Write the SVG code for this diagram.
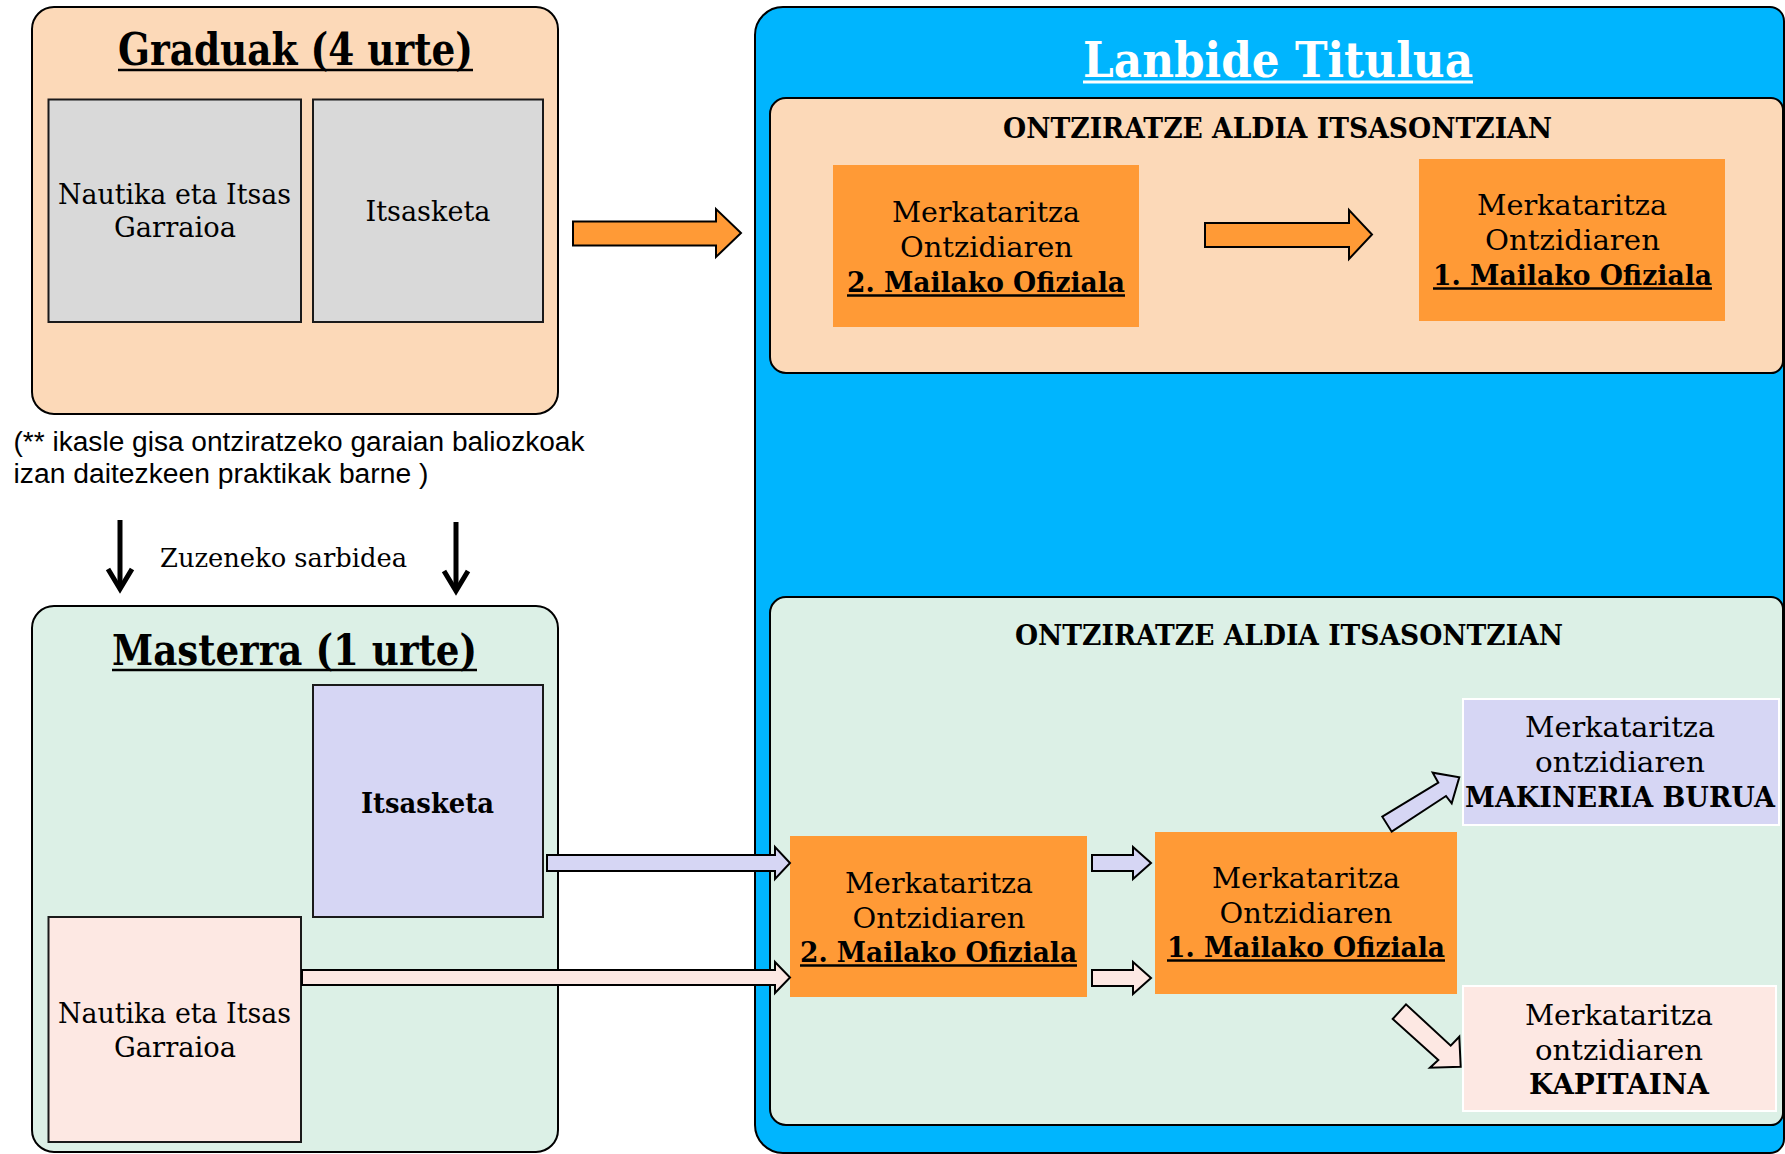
<svg xmlns="http://www.w3.org/2000/svg" width="1785" height="1154" viewBox="0 0 1785 1154">
<style>
.t{font-family:"DejaVu Serif","Liberation Serif",serif;font-size:27px;fill:#000;text-anchor:middle}
.b{font-weight:bold}
.h1{font-size:44px}
.h2{font-size:49px;fill:#fff}
.fn{font-family:"Liberation Sans Narrow","Liberation Sans",sans-serif;font-size:27px;fill:#000}
.ul{stroke:#000;stroke-width:2.5}
.box{stroke:#1a1a1a;stroke-width:2}
.blk{stroke:#000;stroke-width:2;stroke-linejoin:miter}
.org{fill:#FF9A36}
</style>
<rect width="1785" height="1154" fill="#fff"/>

<g id="graduak">
<rect x="32" y="7" width="526" height="407" rx="22" fill="#FCD9B8" stroke="#000" stroke-width="2"/>
<text class="t b h1" x="295.5" y="65" textLength="355" lengthAdjust="spacingAndGlyphs">Graduak (4 urte)</text>
<line class="ul" x1="118" y1="70" x2="473" y2="70" stroke-width="3"/>
</g>
<g id="grad-nautika">
<rect class="box" x="48.5" y="99.5" width="252.5" height="222.5" fill="#D9D9D9"/>
<text class="t" x="174.5" y="204" textLength="233" lengthAdjust="spacingAndGlyphs">Nautika eta Itsas</text>
<text class="t" x="175" y="237" textLength="122" lengthAdjust="spacingAndGlyphs">Garraioa</text>
</g>
<g id="grad-itsasketa">
<rect class="box" x="313" y="99.5" width="230" height="222.5" fill="#D9D9D9"/>
<text class="t" x="428" y="220.5" textLength="125" lengthAdjust="spacingAndGlyphs">Itsasketa</text>
</g>
<g id="oharra">
<text class="fn" x="13.5" y="451" textLength="571" lengthAdjust="spacingAndGlyphs">(** ikasle gisa ontziratzeko garaian baliozkoak</text>
<text class="fn" x="13.5" y="482.6" textLength="415" lengthAdjust="spacingAndGlyphs">izan daitezkeen praktikak barne )</text>
</g>

<g id="masterra">
<rect x="32" y="606" width="526" height="546" rx="22" fill="#DCF0E6" stroke="#000" stroke-width="2"/>
<text class="t b" x="294.5" y="665" style="font-size:43px" textLength="365" lengthAdjust="spacingAndGlyphs">Masterra (1 urte)</text>
<line class="ul" x1="112" y1="670" x2="477" y2="670" stroke-width="3"/>
</g>
<g id="master-itsasketa">
<rect class="box" x="313" y="685" width="230" height="232" fill="#D6D6F4"/>
<text class="t b" x="427.5" y="813" style="font-size:28px" textLength="133" lengthAdjust="spacingAndGlyphs">Itsasketa</text>
</g>
<g id="master-nautika">
<rect class="box" x="48.5" y="917" width="252.5" height="225" fill="#FDE8E3"/>
<text class="t" x="174.5" y="1023" textLength="233" lengthAdjust="spacingAndGlyphs">Nautika eta Itsas</text>
<text class="t" x="175" y="1057" textLength="122" lengthAdjust="spacingAndGlyphs">Garraioa</text>
</g>

<g id="lanbide-titulua">
<path d="M783 7H1770A14 14 0 0 1 1784 21V1139A14 14 0 0 1 1770 1153H783A28 28 0 0 1 755 1125V35A28 28 0 0 1 783 7Z" fill="#00B5FE" stroke="#000" stroke-width="2"/>
<text class="t b h2" x="1278" y="77" textLength="390" lengthAdjust="spacingAndGlyphs">Lanbide Titulua</text>
<line x1="1083" y1="82" x2="1473" y2="82" stroke="#fff" stroke-width="3"/>
</g>

<g id="ontziratze-goia">
<path d="M786 98H1771A12 12 0 0 1 1783 110V361A12 12 0 0 1 1771 373H786A16 16 0 0 1 770 357V114A16 16 0 0 1 786 98Z" fill="#FCD9B8" stroke="#000" stroke-width="2"/>
<text class="t b" x="1277.5" y="138" textLength="549" lengthAdjust="spacingAndGlyphs">ONTZIRATZE ALDIA ITSASONTZIAN</text>
</g>
<g id="goia-ofiziala2">
<rect class="org" x="833" y="165" width="306" height="162"/>
<text class="t" x="986" y="222" textLength="188" lengthAdjust="spacingAndGlyphs">Merkataritza</text>
<text class="t" x="986.5" y="257" textLength="173" lengthAdjust="spacingAndGlyphs">Ontzidiaren</text>
<text class="t b" x="986" y="292" textLength="278" lengthAdjust="spacingAndGlyphs">2. Mailako Ofiziala</text>
<line class="ul" x1="847" y1="295.5" x2="1125" y2="295.5"/>
</g>
<g id="goia-ofiziala1">
<rect class="org" x="1419" y="159" width="306" height="162"/>
<text class="t" x="1572" y="215" textLength="190" lengthAdjust="spacingAndGlyphs">Merkataritza</text>
<text class="t" x="1572.5" y="250" textLength="175" lengthAdjust="spacingAndGlyphs">Ontzidiaren</text>
<text class="t b" x="1572.5" y="285" textLength="279" lengthAdjust="spacingAndGlyphs">1. Mailako Ofiziala</text>
<line class="ul" x1="1433" y1="288.5" x2="1712" y2="288.5"/>
</g>

<g id="ontziratze-behea">
<path d="M786 597H1771A12 12 0 0 1 1783 609V1113A12 12 0 0 1 1771 1125H786A16 16 0 0 1 770 1109V613A16 16 0 0 1 786 597Z" fill="#DCF0E6" stroke="#000" stroke-width="2"/>
<text class="t b" x="1289" y="645" textLength="548" lengthAdjust="spacingAndGlyphs">ONTZIRATZE ALDIA ITSASONTZIAN</text>
</g>
<g id="behea-ofiziala2">
<rect class="org" x="790" y="836" width="297" height="161"/>
<text class="t" x="939" y="893" textLength="188" lengthAdjust="spacingAndGlyphs">Merkataritza</text>
<text class="t" x="939" y="928" textLength="173" lengthAdjust="spacingAndGlyphs">Ontzidiaren</text>
<text class="t b" x="938.5" y="962" textLength="277" lengthAdjust="spacingAndGlyphs">2. Mailako Ofiziala</text>
<line class="ul" x1="800" y1="965.5" x2="1077" y2="965.5"/>
</g>
<g id="behea-ofiziala1">
<rect class="org" x="1155" y="832" width="302" height="162"/>
<text class="t" x="1306" y="887.5" textLength="188" lengthAdjust="spacingAndGlyphs">Merkataritza</text>
<text class="t" x="1306" y="923" textLength="173" lengthAdjust="spacingAndGlyphs">Ontzidiaren</text>
<text class="t b" x="1306" y="957" textLength="278" lengthAdjust="spacingAndGlyphs">1. Mailako Ofiziala</text>
<line class="ul" x1="1167" y1="960.5" x2="1445" y2="960.5"/>
</g>
<g id="makineria-burua">
<rect x="1463" y="699" width="316" height="126" fill="#D6D6F4" stroke="#fff" stroke-width="2"/>
<text class="t" x="1620" y="737" textLength="190" lengthAdjust="spacingAndGlyphs">Merkataritza</text>
<text class="t" x="1620" y="772" textLength="170" lengthAdjust="spacingAndGlyphs">ontzidiaren</text>
<text class="t b" x="1620" y="807" textLength="310" lengthAdjust="spacingAndGlyphs">MAKINERIA BURUA</text>
</g>
<g id="kapitaina">
<rect x="1463" y="986" width="313" height="125" fill="#FDE8E3" stroke="#fff" stroke-width="2"/>
<text class="t" x="1619" y="1025" textLength="188" lengthAdjust="spacingAndGlyphs">Merkataritza</text>
<text class="t" x="1619" y="1059.5" textLength="168" lengthAdjust="spacingAndGlyphs">ontzidiaren</text>
<text class="t b" x="1619" y="1094" textLength="180" lengthAdjust="spacingAndGlyphs">KAPITAINA</text>
</g>

<g id="connectors">
<path class="blk" d="M573 221.5H716V209L741 233L716 257V245.5H573Z" fill="#FF9A36"/>
<path class="blk" d="M1205 223H1349V210L1372 234.5L1349 259V247H1205Z" fill="#FF9A36"/>
<path class="blk" d="M547 855H775V847L790 863L775 879V871H547Z" fill="#D6D6F4"/>
<path class="blk" d="M302 970H775V962L790 977.5L775 993V985H302Z" fill="#FDE8E3"/>
<path class="blk" d="M1092 855H1133V847L1151 863L1133 879V871H1092Z" fill="#D6D6F4"/>
<path class="blk" d="M1092 970H1133V962L1151 978L1133 994V986H1092Z" fill="#FDE8E3"/>
<path class="blk" d="M1382.3 816.7L1438.3 782.7L1432.7 772.7L1459.3 777.3L1451.7 803.3L1446 796L1391.7 831.7Z" fill="#D6D6F4"/>
<path class="blk" d="M1392.7 1019L1406 1004.3L1450.7 1045.7L1459.3 1036.7L1460.7 1066.7L1430 1067.7L1438.3 1060Z" fill="#FDE8E3"/>
<g stroke="#000" stroke-width="5" fill="none">
<line x1="120" y1="520" x2="120" y2="588"/>
<polyline points="108,569 120,589 132,569" stroke-linejoin="miter"/>
<line x1="456" y1="522" x2="456" y2="590"/>
<polyline points="444,571 456,591 468,571" stroke-linejoin="miter"/>
</g>
<text class="t" x="283.5" y="567" style="font-size:26px" textLength="247" lengthAdjust="spacingAndGlyphs">Zuzeneko sarbidea</text>
</g>
</svg>
